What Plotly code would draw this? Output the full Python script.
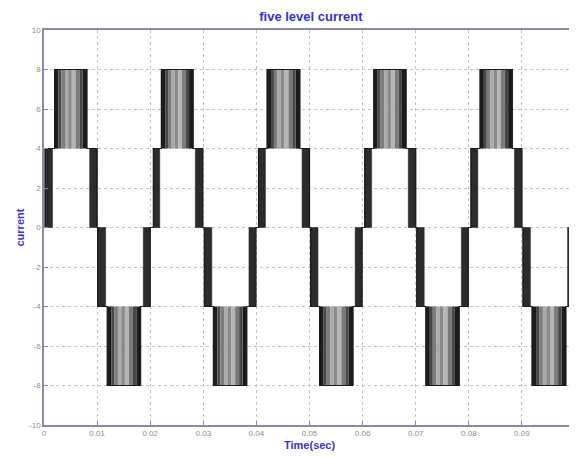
import plotly.graph_objects as go

# ---------------- data (seconds / amperes) ----------------
x_ticks = [0, 0.01, 0.02, 0.03, 0.04, 0.05, 0.06, 0.07, 0.08, 0.09, 0.1]
x_tick_labels = ["0", "0.01", "0.02", "0.03", "0.04", "0.05", "0.06", "0.07", "0.08", "0.09", "0.1"]
y_ticks = [-10, -8, -6, -4, -2, 0, 2, 4, 6, 8, 10]
y_tick_labels = ["-10", "-8", "-6", "-4", "-2", "0", "2", "4", "6", "8", "10"]

level_low = 4      # inner level (A)
level_high = 8     # outer level (A)

# positive half-wave: switching 0<->4 band, 4<->8 PWM block, 4<->0 band
p_band1_start = [0.0002, 0.0206, 0.0404, 0.0604, 0.0804]
p_band1_end   = [0.0016, 0.0218, 0.0417, 0.0617, 0.0817]
p_block_start = [0.0020, 0.0221, 0.0420, 0.0621, 0.0821]
p_block_end   = [0.0081, 0.0281, 0.0482, 0.0682, 0.0882]
p_band2_start = [0.0086, 0.0285, 0.0486, 0.0686, 0.0886]
p_band2_end   = [0.0100, 0.0299, 0.0500, 0.0700, 0.0900]
# negative half-wave: switching 0<->-4 band, -4<->-8 PWM block, -4<->0 band
n_band1_start = [0.0101, 0.0302, 0.0502, 0.0702, 0.0902]
n_band1_end   = [0.0116, 0.0316, 0.0516, 0.0716, 0.0916]
n_block_start = [0.0119, 0.0319, 0.0519, 0.0719, 0.0919]
n_block_end   = [0.0182, 0.0382, 0.0582, 0.0782, 0.0983]
n_band2_start = [0.0187, 0.0386, 0.0586, 0.0786, 0.0986]
n_band2_end   = [0.0200, 0.0399, 0.0599, 0.0799, 0.0999]

# ---------------- styles ----------------
BLUE = "#3434c8"
AXIS = "#8a8aa6"
TICKFONT = "#8c8c8c"
GRID = "#c4c4c4"
BAND_COLOR = "#2c2c2c"
# shading profile of a PWM block (fraction of block width, colour of stripe)
STRIPE_EDGES = [0, 0.12, 0.21, 0.32, 0.42, 0.53, 0.65, 0.77, 0.87, 1.0]
STRIPE_COLORS = ["#1c1c1c", "#484848", "#7c7c7c", "#a9a9a9", "#8a8a8a",
                 "#b5b5b5", "#7a7a7a", "#474747", "#1c1c1c"]

fig = go.Figure()


def rect(xs, ys, x0, x1, y0, y1):
    xs += [x0, x1, x1, x0, x0, None]
    ys += [y0, y0, y1, y1, y0, None]


# PWM blocks
stripe_x = {c: [] for c in STRIPE_COLORS}
stripe_y = {c: [] for c in STRIPE_COLORS}
for starts, ends, lo, hi in [(p_block_start, p_block_end, level_low, level_high),
                             (n_block_start, n_block_end, -level_high, -level_low)]:
    for s, e in zip(starts, ends):
        w = e - s
        for i, c in enumerate(STRIPE_COLORS):
            rect(stripe_x[c], stripe_y[c], s + STRIPE_EDGES[i] * w, s + STRIPE_EDGES[i + 1] * w, lo, hi)
for c in dict.fromkeys(STRIPE_COLORS):
    fig.add_trace(go.Scatter(x=stripe_x[c], y=stripe_y[c], mode="lines", fill="toself",
                             fillcolor=c, line=dict(width=0, color=c), hoverinfo="skip",
                             showlegend=False))

# dark switching bands between 0 and +-4
bx, by = [], []
for s_list, e_list, lo, hi in [(p_band1_start, p_band1_end, 0, level_low),
                               (p_band2_start, p_band2_end, 0, level_low),
                               (n_band1_start, n_band1_end, -level_low, 0),
                               (n_band2_start, n_band2_end, -level_low, 0)]:
    for s, e in zip(s_list, e_list):
        rect(bx, by, s, e, lo, hi)
fig.add_trace(go.Scatter(x=bx, y=by, mode="lines", fill="toself", fillcolor=BAND_COLOR,
                         line=dict(width=0.5, color="#1a1a1a"), hoverinfo="skip", showlegend=False))

# envelope step line
ex, ey = [0], [0]
for k in range(len(p_band1_start)):
    ex += [p_band1_start[k], p_band1_start[k], p_block_start[k], p_block_start[k],
           p_block_end[k], p_block_end[k], p_band2_end[k], p_band2_end[k],
           n_band1_start[k], n_band1_start[k], n_block_start[k], n_block_start[k],
           n_block_end[k], n_block_end[k], n_band2_end[k], n_band2_end[k]]
    ey += [0, level_low, level_low, level_high,
           level_high, level_low, level_low, 0,
           0, -level_low, -level_low, -level_high,
           -level_high, -level_low, -level_low, 0]
ex += [0.1]
ey += [0]
fig.add_trace(go.Scatter(x=ex, y=ey, mode="lines", line=dict(color="#1a1a1a", width=1.2),
                         showlegend=False, hoverinfo="skip"))

axis_style = dict(showgrid=True, gridcolor=GRID, griddash="dot", gridwidth=1,
                  showline=True, linecolor=AXIS, linewidth=1.5, mirror=True,
                  ticks="inside", ticklen=4, tickcolor=AXIS, automargin=False,
                  tickfont=dict(size=8, color=TICKFONT, family="Liberation Sans"),
                  zeroline=False)
fig.update_xaxes(range=[0, 0.1], tickvals=x_ticks, ticktext=x_tick_labels, **axis_style)
fig.update_yaxes(range=[-10, 10], tickvals=y_ticks, ticktext=y_tick_labels, **axis_style)

fig.update_layout(
    width=577, height=457,
    margin=dict(l=36, r=10, t=22, b=40, autoexpand=False),
    paper_bgcolor="white", plot_bgcolor="white",
    title=dict(text="<b>five level current</b>", x=0.525, xanchor="center",
               y=0.982, yanchor="middle", yref="container",
               font=dict(size=13, color=BLUE, family="Liberation Sans")),
    annotations=[
        dict(text="<b>Time(sec)</b>", x=0.5, y=0, xref="paper", yref="paper",
             xanchor="center", yanchor="middle", yshift=-20, showarrow=False,
             font=dict(size=11, color=BLUE, family="Liberation Sans")),
        dict(text="<b>current</b>", x=0, y=0.5, xref="paper", yref="paper",
             xanchor="center", yanchor="middle", xshift=-25, textangle=-90,
             showarrow=False, font=dict(size=11, color=BLUE, family="Liberation Sans")),
    ],
)

fig.write_html("out.html")
